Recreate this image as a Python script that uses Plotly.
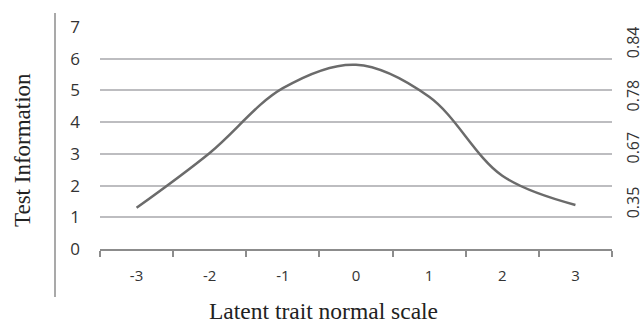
import plotly.graph_objects as go

categories = ["-3", "-2", "-1", "0", "1", "2", "3"]
information = [1.30, 3.03, 5.07, 5.81, 4.80, 2.31, 1.39]
reliability_labels = ["0.35", "0.67", "0.78", "0.84"]
reliability_pos = [1.39, 3.12, 4.76, 6.44]
y_ticks = [0, 1, 2, 3, 4, 5, 6, 7]

fig = go.Figure()
fig.add_trace(go.Scatter(
    x=categories, y=information, mode="lines",
    line=dict(color="#6b6b6b", width=2.5, shape="spline", smoothing=1.0),
    showlegend=False, hoverinfo="skip"))
fig.add_trace(go.Scatter(
    x=categories, y=information, mode="lines", yaxis="y2",
    line=dict(color="rgba(0,0,0,0)", width=0),
    showlegend=False, hoverinfo="skip"))

sans = "'Open Sans', Lato, sans-serif"

fig.update_layout(
    width=643, height=325,
    margin=dict(l=100, r=31, t=27, b=76, autoexpand=False),
    paper_bgcolor="white", plot_bgcolor="white",
    xaxis=dict(
        type="category", range=[-0.5, 6.5], automargin=False,
        showgrid=False, zeroline=False,
        showline=True, linecolor="#8c8c8c", linewidth=1.5,
        ticks="outside", tickson="boundaries", ticklen=6,
        tickcolor="#8c8c8c", tickwidth=1.5,
        tickfont=dict(family=sans, size=15, color="#333333"),
        ticklabelstandoff=12,
    ),
    yaxis=dict(
        range=[0, 7], tickvals=y_ticks, automargin=False,
        showgrid=True, gridcolor="#bdbdc0", gridwidth=1.5,
        zeroline=False, showline=False, ticks="",
        tickfont=dict(family=sans, size=17, color="#333333"), ticklabelstandoff=19,
    ),
    yaxis2=dict(
        range=[0, 7], overlaying="y", side="right", automargin=False,
        tickvals=reliability_pos, ticktext=reliability_labels,
        tickangle=-90, showgrid=False, zeroline=False, showline=False, ticks="",
        tickfont=dict(family=sans, size=16, color="#333333"),
        ticklabelstandoff=10,
    ),
    annotations=[
        dict(text="Test Information", xref="paper", yref="paper",
             x=(22 - 100) / 512, y=(249 - 150) / 222, textangle=-90,
             showarrow=False, xanchor="center", yanchor="middle",
             font=dict(family="'Liberation Serif', 'Times New Roman', serif", size=23, color="#222222")),
        dict(text="Latent trait normal scale", xref="paper", yref="paper",
             x=(323 - 100) / 512, y=(249 - 311) / 222,
             showarrow=False, xanchor="center", yanchor="middle",
             font=dict(family="'Liberation Serif', 'Times New Roman', serif", size=23.5, color="#222222")),
    ],
    shapes=[
        dict(type="line", xref="paper", yref="paper",
             x0=(55 - 100) / 512, x1=(55 - 100) / 512,
             y0=(249 - 13) / 222, y1=(249 - 297) / 222,
             line=dict(color="#8c8c8c", width=1.5)),
    ],
)

fig.write_html("out.html", config={"displayModeBar": False},
               post_script="document.body.style.margin='0';document.body.style.overflow='hidden';")
